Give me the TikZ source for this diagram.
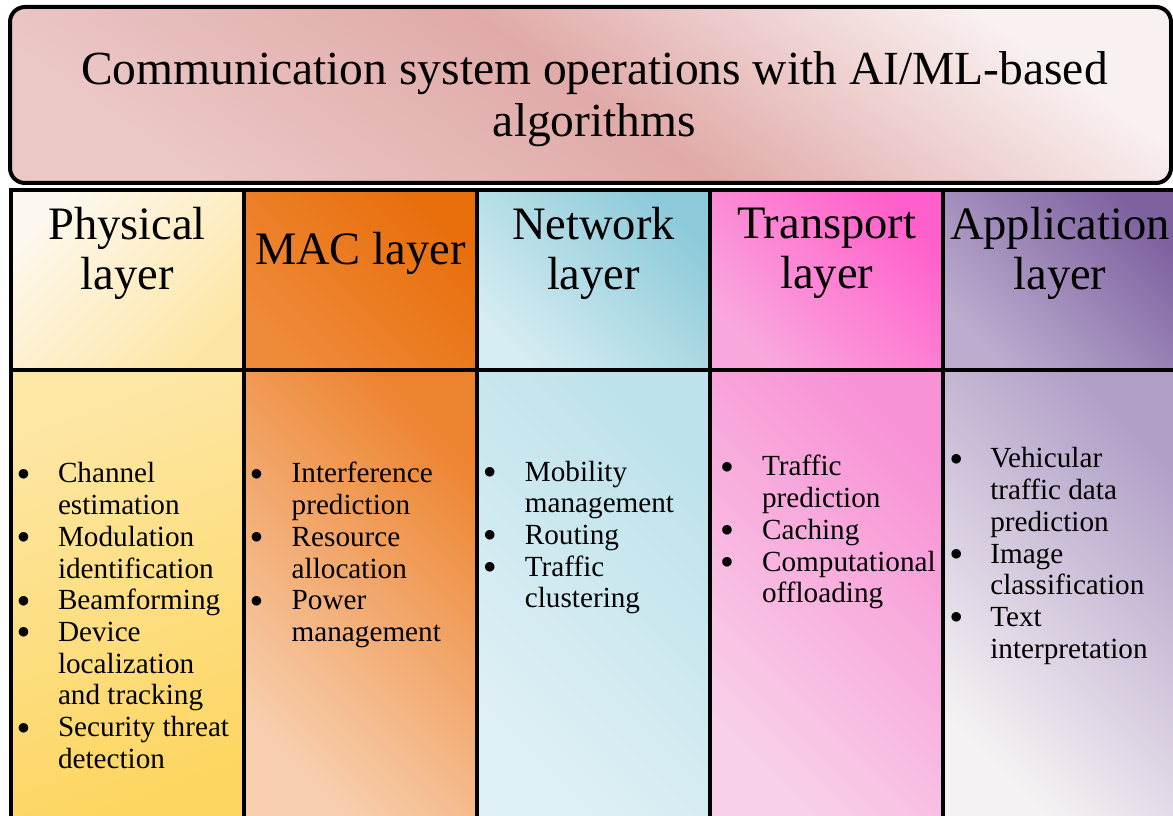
\documentclass[tikz,border=0pt]{standalone}
\usepackage{fontspec}
\setmainfont{Liberation Serif}
\newfontfamily\symfont{DejaVu Sans}
\usetikzlibrary{positioning,calc}

\definecolor{titleTop}{HTML}{F9F0F0}
\definecolor{titleMid}{HTML}{E0AAA8}
\definecolor{titleBot}{HTML}{EBC7C6}
\definecolor{phyHa}{HTML}{FDF8EE}
\definecolor{phyHb}{HTML}{FDE6A5}
\definecolor{phyBa}{HTML}{FDE7A5}
\definecolor{phyBb}{HTML}{FDD662}
\definecolor{macHa}{HTML}{E86E0C}
\definecolor{macHb}{HTML}{EE8A38}
\definecolor{macBa}{HTML}{ED8430}
\definecolor{macBb}{HTML}{F7CFAF}
\definecolor{netHa}{HTML}{8DCAD9}
\definecolor{netHb}{HTML}{D4ECF2}
\definecolor{netBa}{HTML}{BDE2EB}
\definecolor{netBb}{HTML}{DFF0F5}
\definecolor{traHa}{HTML}{FF5FCA}
\definecolor{traHb}{HTML}{F9A8DD}
\definecolor{traBa}{HTML}{F892D5}
\definecolor{traBb}{HTML}{F8D0E8}
\definecolor{appHa}{HTML}{7E62A0}
\definecolor{appHb}{HTML}{BCADCF}
\definecolor{appBa}{HTML}{B09FC7}
\definecolor{appBb}{HTML}{F6F2F3}

\newcommand{\blt}{\raisebox{5.5pt}{\symfont\fontsize{12.5}{12.5}\selectfont ●}}

\begin{document}
\begin{tikzpicture}[x=1pt, y=1pt, node distance=0pt,
	every node/.style={outer sep=0pt, inner sep=0pt, text=black},
	grad/.style n args={3}{top color=#1, bottom color=#2, shading angle=#3},
	cell/.style={draw=black, line width=4pt, minimum width=233.2pt},
	headcell/.style={cell, minimum height=179.5pt},
	bodycell/.style={cell, minimum height=448pt},
	headtext/.style={align=center, font=\fontsize{46.5}{50}\selectfont},
	listtext/.style={font=\fontsize{29.2}{31.7}\selectfont}]
	\useasboundingbox (0,0) rectangle (1173,815);
	\fill[white] (0,0) rectangle (1173,815);
	
	\node (title) at (590.5,720) [draw=black, line width=4pt, rounded corners=15pt,
		minimum width=1161pt, minimum height=176pt,
		grad={titleTop}{titleBot}{-35}, middle color=titleMid] {};
	\node (titleT) [below=4pt of title.center, anchor=center, align=center,
		font=\fontsize{47.5}{52}\selectfont, xshift=4pt]
		{Communication system operations with AI/ML-based\\algorithms};
	
	% header row
	\node (phyH) at (10.5,624.5) [headcell, anchor=north west, grad={phyHa}{phyHb}{45}] {};
	\node (macH) [headcell, right=of phyH, grad={macHa}{macHb}{-45}] {};
	\node (netH) [headcell, right=of macH, grad={netHa}{netHb}{-45}] {};
	\node (traH) [headcell, right=of netH, grad={traHa}{traHb}{-45}] {};
	\node (appH) [headcell, right=of traH, grad={appHa}{appHb}{-45}] {};
	
	% body row
	\node (phyB) [bodycell, below=of phyH, grad={phyBa}{phyBb}{20}] {};
	\node (macB) [bodycell, below=of macH, grad={macBa}{macBb}{-45}] {};
	\node (netB) [bodycell, below=of netH, grad={netBa}{netBb}{-45}] {};
	\node (traB) [bodycell, below=of traH, grad={traBa}{traBb}{-45}] {};
	\node (appB) [bodycell, below=of appH, grad={appBa}{appBb}{-45}] {};
	
	% layer names
	\node (phyT) [headtext, below=63pt of phyH.north, anchor=center] {Physical\\layer};
	\node (macT) [headtext, below=63pt of macH.north, anchor=center] {MAC layer};
	\node (netT) [headtext, below=63pt of netH.north, anchor=center] {Network\\layer};
	\node (traT) [headtext, below=63pt of traH.north, anchor=center] {Transport\\layer};
	\node (appT) [headtext, below=63pt of appH.north, anchor=center] {Application\\layer};
	
	% tasks
	\node (phyL) [listtext, below right=113pt and 7.5pt of phyB.north west, anchor=base west]
		{\begin{tabular}[t]{@{}p{40pt}@{}l@{}}
			\blt & Channel\\ & estimation\\
			\blt & Modulation\\ & identification\\
			\blt & Beamforming\\
			\blt & Device\\ & localization\\ & and tracking\\
			\blt & Security threat\\ & detection
		\end{tabular}};
	\node (macL) [listtext, below right=113pt and 7.5pt of macB.north west, anchor=base west]
		{\begin{tabular}[t]{@{}p{40.5pt}@{}l@{}}
			\blt & Interference\\ & prediction\\
			\blt & Resource\\ & allocation\\
			\blt & Power\\ & management
		\end{tabular}};
	\node (netL) [listtext, below right=111pt and 7.5pt of netB.north west, anchor=base west]
		{\begin{tabular}[t]{@{}p{40.5pt}@{}l@{}}
			\blt & Mobility\\ & management\\
			\blt & Routing\\
			\blt & Traffic\\ & clustering
		\end{tabular}};
	\node (traL) [listtext, below right=106pt and 11.5pt of traB.north west, anchor=base west]
		{\begin{tabular}[t]{@{}p{40.5pt}@{}l@{}}
			\blt & Traffic\\ & prediction\\
			\blt & Caching\\
			\blt & Computational\\ & offloading
		\end{tabular}};
	\node (appL) [listtext, below right=98pt and 7.5pt of appB.north west, anchor=base west]
		{\begin{tabular}[t]{@{}p{39.5pt}@{}l@{}}
			\blt & Vehicular\\ & traffic data\\ & prediction\\
			\blt & Image\\ & classification\\
			\blt & Text\\ & interpretation
		\end{tabular}};
\end{tikzpicture}
\end{document}
